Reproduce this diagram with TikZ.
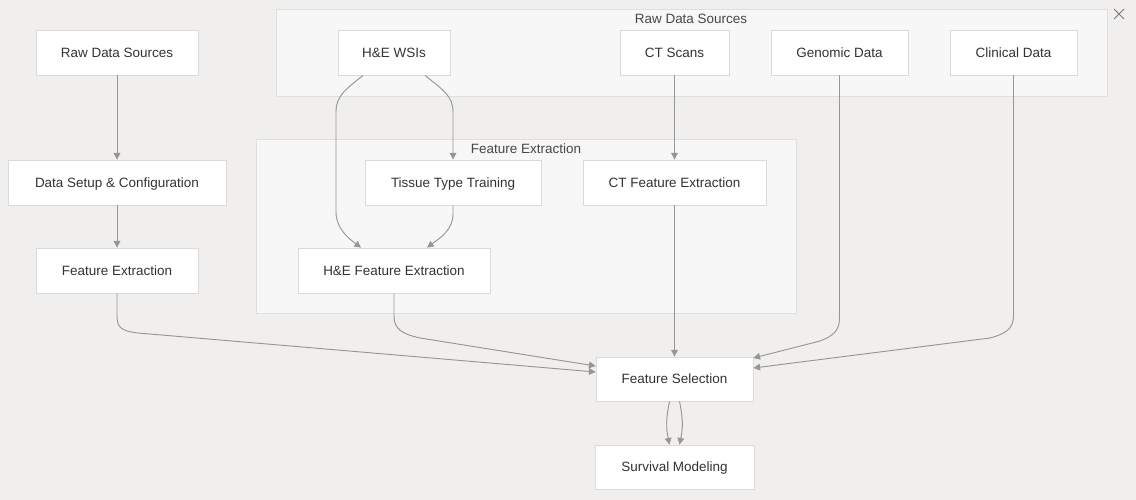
\documentclass[tikz,border=0pt]{standalone}
\usepackage{fontspec}
\setmainfont{Liberation Sans}
\usetikzlibrary{arrows.meta,calc}
\definecolor{bgc}{RGB}{240,239,238}
\definecolor{clfill}{RGB}{246,247,246}
\definecolor{clborder}{RGB}{222,224,222}
\definecolor{nodeborder}{RGB}{218,218,218}
\definecolor{edgec}{RGB}{150,150,150}
\definecolor{txt}{RGB}{51,51,51}
\tikzset{
  box/.style={draw=nodeborder, fill=white, line width=0.6pt, rectangle, inner sep=0pt,
    minimum width={#1*0.75pt}, minimum height={45*0.75pt}, text=txt,
    text height=9pt, text depth=1.8pt,
    font=\fontsize{10.1}{12}\selectfont},
  cluster/.style={draw=clborder, fill=clfill, line width=0.6pt},
  cllabel/.style={text=txt!90, font=\fontsize{10.1}{12}\selectfont, inner sep=0pt,
    text height=9pt, text depth=1.8pt},
  edge/.style={draw=edgec, line width=0.7pt, -{Triangle[length=5pt,width=5pt]}},
}
\begin{document}
\begin{tikzpicture}[x=0.75pt,y=-0.75pt]
\useasboundingbox (0,0) rectangle (1136,500);
\fill[bgc] (0,0) rectangle (1136,500);

% clusters
\draw[cluster] (276,9) rectangle (1107,96);
\node[cllabel] (cl1) at (691,19) {Raw Data Sources};
\draw[cluster] (256,139) rectangle (796,313);
\node[cllabel] (cl2) at (526,149) {Feature Extraction};

% close icon
\draw[edgec!80!black, line width=0.7pt] (1114,9) -- (1124,19) (1124,9) -- (1114,19);

% nodes
\node[box=162] (rds) at (117,52.5) {Raw Data Sources};
\node[box=218] (dsc) at (117,182.5) {Data Setup \& Configuration};
\node[box=162] (fe) at (117,270.5) {Feature Extraction};
\node[box=112] (he) at (394,52.5) {H\&E WSIs};
\node[box=109] (ct) at (674.5,52.5) {CT Scans};
\node[box=137] (gen) at (839.5,52.5) {Genomic Data};
\node[box=127] (clin) at (1013.5,52.5) {Clinical Data};
\node[box=176] (ttt) at (453,182.5) {Tissue Type Training};
\node[box=183] (ctfe) at (674.5,182.5) {CT Feature Extraction};
\node[box=192] (hefe) at (394,270.5) {H\&E Feature Extraction};
\node[box=157, minimum height={44*0.75pt}] (fs) at (674.5,379) {Feature Selection};
\node[box=159, minimum height={44*0.75pt}] (sm) at (674.5,467) {Survival Modeling};

% edges
\draw[edge] (rds) -- (dsc);
\draw[edge] (dsc) -- (fe);
\draw[edge] (ct) -- (ctfe);
\draw[edge] (ctfe) -- (fs);
\draw[edge] ($(he.south)+(-31,0)$) .. controls (345,90) and (336,96) .. (336,112)
  -- (336,212) .. controls (336,228) and (348,238) .. ($(hefe.north)+(-33,0)$);
\draw[edge] ($(he.south)+(31,0)$) .. controls (443,90) and (453,96) .. (453,112)
  -- (ttt.north);
\draw[edge] (ttt.south) -- (453,214) .. controls (453,230) and (440,238) .. ($(hefe.north)+(33,0)$);
\draw[edge] (fe.south) -- (117,316) .. controls (117,328) and (122,331) .. (138,333)
  -- ($(fs.west)+(0,-7)$);
\draw[edge] (hefe.south) -- (394,316) .. controls (394,329) and (402,334) .. (420,338)
  -- ($(fs.west)+(0,-13)$);
\draw[edge] (gen.south) -- (839.5,318) .. controls (839.5,331) and (833,336) .. (820,341)
  -- ($(fs.east)+(0,-21)$);
\draw[edge] (clin.south) -- (1013.5,316) .. controls (1013.5,329) and (1005,334) .. (990,338)
  -- ($(fs.east)+(0,-11)$);
\draw[edge] ($(fs.south)+(-5,0)$) .. controls (666,418) and (666,428) .. ($(sm.north)+(-5,0)$);
\draw[edge] ($(fs.south)+(5,0)$) .. controls (683,418) and (683,428) .. ($(sm.north)+(5,0)$);
\end{tikzpicture}
\end{document}
